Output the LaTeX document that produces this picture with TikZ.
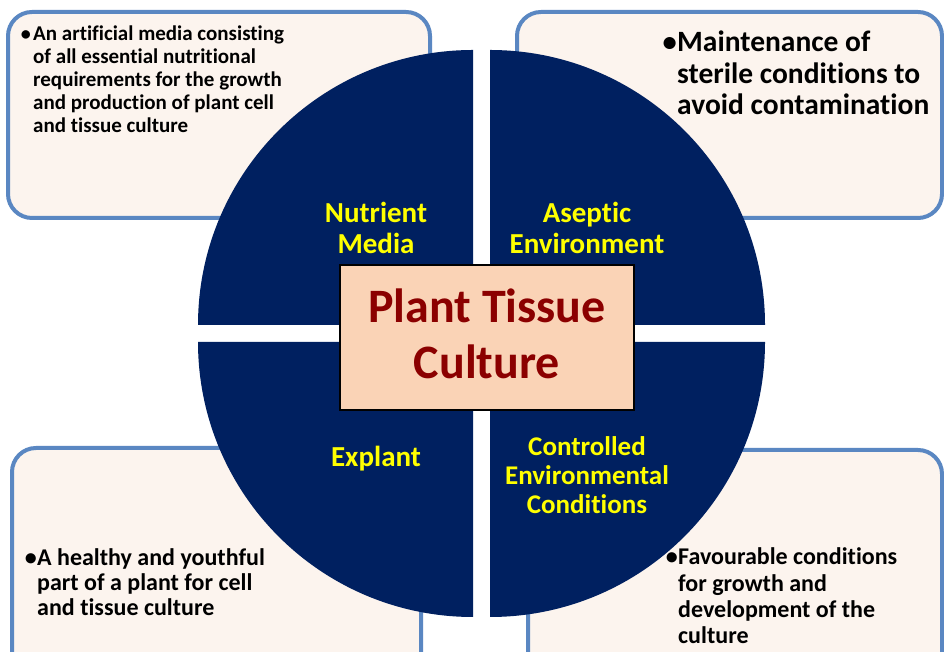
\documentclass[tikz,border=0pt]{standalone}
\usepackage{fontspec}
\setmainfont{Carlito}[Ligatures=NoCommon]
\definecolor{navy}{HTML}{002060}
\definecolor{boxblue}{HTML}{5A87C2}
\definecolor{boxfill}{HTML}{FCF4EE}
\definecolor{peach}{HTML}{FAD3B6}
\definecolor{darkred}{HTML}{8B0000}
\definecolor{labelyellow}{HTML}{FFFF00}
\tikzset{
  infobox/.style={draw=boxblue, line width=4pt, fill=boxfill, rounded corners=24pt},
  quad/.style={fill=navy},
  qlabel/.style={text=labelyellow, font=\fontsize{29}{31}\selectfont\bfseries, align=center, inner sep=0pt},
  infotext/.style={align=left, anchor=base west, inner sep=0pt},
  bul/.style={anchor=base east, inner sep=0pt},
}
\begin{document}
\begin{tikzpicture}[x=1pt,y=1pt]
\clip (0,0) rectangle (944,652);
\fill[white] (0,0) rectangle (944,652);
% info boxes
\draw[infobox] (8,434) rectangle (430,640);
\draw[infobox] (517,434) rectangle (942,640);
\draw[infobox] (12,-30) rectangle (421,204);
\draw[infobox] (528,-30) rectangle (942,202);
% quadrants
\fill[quad] (473,327) -- ++(-275,0) arc[start angle=180,end angle=90,radius=275] -- cycle;
\fill[quad] (490,327) -- ++(0,275) arc[start angle=90,end angle=0,radius=275] -- cycle;
\fill[quad] (473,310) -- ++(0,-275) arc[start angle=270,end angle=180,radius=275] -- cycle;
\fill[quad] (490,310) -- ++(275,0) arc[start angle=0,end angle=-90,radius=275] -- cycle;
% centre
\node[draw=black, line width=1.5pt, fill=peach, minimum width=294pt, minimum height=145pt, inner sep=0pt] (ptc) at (487,314.5) {};
\node[text=darkred, font=\fontsize{48}{56}\selectfont\bfseries, align=center, inner sep=0pt] (ptct) at ([yshift=3.5pt]ptc.center) {Plant Tissue\\Culture};
% quadrant labels
\node[qlabel] (nm) at (376,424) {Nutrient\\Media};
\node[qlabel] (ae) at (587,424) {Aseptic\\Environment};
\node[qlabel] (ex) at (376,193) {Explant};
\node[qlabel, font=\fontsize{27}{29}\selectfont\bfseries] (cec) at (587,177) {Controlled\\Environmental\\Conditions};
% info texts
\node[bul, font=\fontsize{20}{23}\selectfont\bfseries] (b1) at (31,611) {\textbullet};
\node[infotext, font=\fontsize{21}{23}\selectfont\bfseries] (t1) at (33,519) {An artificial media consisting\\of all essential nutritional\\requirements for the growth\\and production of plant cell\\and tissue culture};
\node[bul, font=\fontsize{28.5}{31.5}\selectfont\bfseries] (b2) at (677,600) {\textbullet};
\node[infotext, font=\fontsize{29.5}{31.5}\selectfont\bfseries] (t2) at (677,537) {Maintenance of\\sterile conditions to\\avoid contamination};
\node[bul, font=\fontsize{24}{25}\selectfont\bfseries] (b3) at (37,86) {\textbullet};
\node[infotext, font=\fontsize{24}{25}\selectfont\bfseries] (t3) at (37,36) {A healthy and youthful\\part of a plant for cell\\and tissue culture};
\node[bul, font=\fontsize{24}{26.3}\selectfont\bfseries] (b4) at (678,87) {\textbullet};
\node[infotext, font=\fontsize{24}{26.3}\selectfont\bfseries] (t4) at (678,8.1) {Favourable conditions\\for growth and\\development of the\\culture};
\end{tikzpicture}
\end{document}
